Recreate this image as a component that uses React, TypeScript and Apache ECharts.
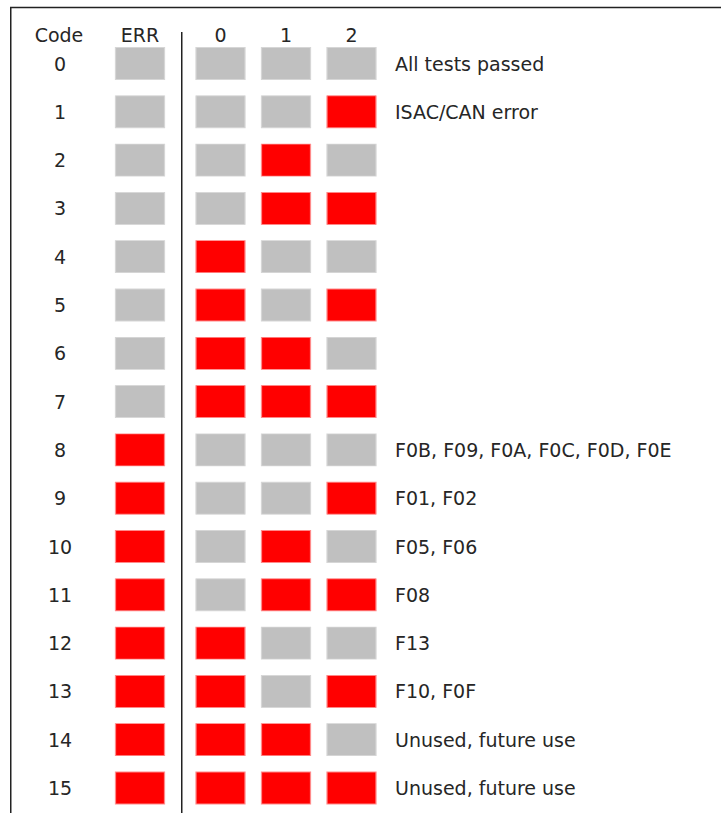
import React, { useEffect, useRef } from "react";
import * as echarts from "echarts";

const codes = ["0","1","2","3","4","5","6","7","8","9","10","11","12","13","14","15"];
const errBits = [0,0,0,0,0,0,0,0,1,1,1,1,1,1,1,1];
const bit0 = [0,0,0,0,1,1,1,1,0,0,0,0,1,1,1,1];
const bit1 = [0,0,1,1,0,0,1,1,0,0,1,1,0,0,1,1];
const bit2 = [0,1,0,1,0,1,0,1,0,1,0,1,0,1,0,1];
const bitHeaders = ["0", "1", "2"];
const errHeader = ["ERR"];
const descriptions = [
  "All tests passed",
  "ISAC/CAN error",
  "", "", "", "", "", "",
  "F0B, F09, F0A, F0C, F0D, F0E",
  "F01, F02",
  "F05, F06",
  "F08",
  "F13",
  "F10, F0F",
  "Unused, future use",
  "Unused, future use",
];

const FONT = "DejaVu Sans";
const TEXT = "#262626";
const GRAY = "#c0c0c0";
const RED = "#ff0000";

function box(x: number, y: number, v: number) {
  return {
    value: [x, y, v],
    itemStyle: {
      color: v ? RED : GRAY,
      borderColor: v ? "#ff8a8a" : "#d6d6d6",
      borderWidth: 1,
      opacity: 1,
    },
  };
}

export default function App() {
  const ref = useRef<HTMLDivElement>(null);
  useEffect(() => {
    if (!ref.current) return;
    const chart = echarts.init(ref.current, undefined, { renderer: "svg" });
    const top = 39.35;
    const height = 772.8;
    const errData = errBits.map((v, i) => box(0, i, v));
    const bitData: any[] = [];
    [bit0, bit1, bit2].forEach((arr, c) => arr.forEach((v, i) => bitData.push(box(c, i, v))));
    const axisCommon = {
      axisLine: { show: false }, axisTick: { show: false }, splitLine: { show: false },
    };
    chart.setOption({
      animation: false,
      grid: [
        { left: 107.25, width: 65.5, top, height },
        { left: 187.75, width: 196.5, top, height },
      ],
      xAxis: [
        {
          type: "category", gridIndex: 0, position: "top", data: errHeader, ...axisCommon,
          axisLabel: { color: TEXT, fontFamily: FONT, fontSize: 19, margin: 4, verticalAlign: "middle" },
        },
        {
          type: "category", gridIndex: 1, position: "top", data: bitHeaders, ...axisCommon,
          axisLabel: { color: TEXT, fontFamily: FONT, fontSize: 19, margin: 4, verticalAlign: "middle" },
        },
      ],
      yAxis: [
        {
          type: "category", gridIndex: 0, inverse: true, data: codes, ...axisCommon,
          axisLabel: { color: TEXT, fontFamily: FONT, fontSize: 19, margin: 47.25, align: "center", padding: [5, 0, 0, 0] },
        },
        {
          type: "category", gridIndex: 1, inverse: true, position: "right", data: codes, ...axisCommon,
          axisLabel: {
            color: TEXT, fontFamily: FONT, fontSize: 19, margin: 10.75, align: "left",
            formatter: (_v: string, i: number) => descriptions[i],
          },
        },
      ],
      series: [
        {
          type: "scatter", xAxisIndex: 0, yAxisIndex: 0, data: errData,
          symbol: "rect", symbolSize: [49, 32], emphasis: { disabled: true },
        },
        {
          type: "scatter", xAxisIndex: 1, yAxisIndex: 1, data: bitData,
          symbol: "rect", symbolSize: [49, 32], emphasis: { disabled: true },
        },
      ],
      graphic: [
        { type: "line", shape: { x1: 10, y1: 7.5, x2: 721, y2: 7.5 }, style: { stroke: "#222", lineWidth: 1.5 } },
        { type: "line", shape: { x1: 10.75, y1: 7, x2: 10.75, y2: 813 }, style: { stroke: "#222", lineWidth: 1.5 } },
        { type: "line", shape: { x1: 181.75, y1: 32, x2: 181.75, y2: 813 }, style: { stroke: "#222", lineWidth: 1.5 } },
        {
          type: "text", x: 59, y: 35,
          style: { text: "Code", fill: TEXT, font: `19px "${FONT}"`, textAlign: "center", textVerticalAlign: "middle" },
        },
      ],
    });
    return () => chart.dispose();
  }, []);
  return <div ref={ref} style={{ position: "absolute", left: 0, top: 0, width: 725, height: 813 }} />;
}
